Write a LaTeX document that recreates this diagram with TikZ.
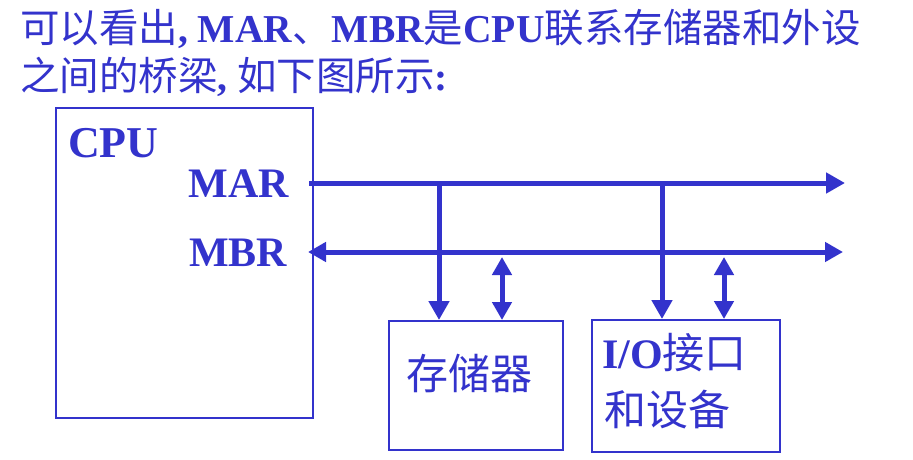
\documentclass[tikz,border=0pt]{standalone}
\usepackage{fontspec}
\setmainfont{Liberation Serif}
\newfontfamily\cjk{Noto Sans CJK SC}
\usetikzlibrary{arrows.meta}
\definecolor{bluec}{RGB}{51,51,204}
\newcommand{\zh}[1]{{\cjk\mdseries #1}}
\begin{document}
\begin{tikzpicture}[x=1pt,y=-1pt,
  bus/.style={line width=5pt, draw=bluec},
  tipend/.style={-{Triangle[length=19pt,width=20pt]}},
  tipboth/.style={{Triangle[length=18pt,width=19pt]}-{Triangle[length=18pt,width=19pt]}},
  box/.style={draw=bluec, line width=2pt, inner sep=0pt},
  lbl/.style={text=bluec, inner sep=0pt, font=\bfseries\fontsize{42}{42}\selectfont},
  title/.style={text=bluec, inner sep=0pt, anchor=base west, font=\bfseries\fontsize{39.5}{39.5}\selectfont}]
\useasboundingbox (0,0) rectangle (913,460);
\fill[white] (0,0) rectangle (913,460);
% title
\node[title] (t1) at (20,43) {\zh{可以看出}, MAR\zh{、}MBR\zh{是}CPU\zh{联系存储器和外设}};
\node[title] (t2) at (20,90) {\zh{之间的桥梁}, \zh{如下图所示}:};
% CPU
\node[box, line width=1.2pt, minimum width=257pt, minimum height=310pt] (cpu) at (184.5,263) {};
\node[lbl, anchor=base west, font=\bfseries\fontsize{44}{44}\selectfont] (cpulbl) at (68,157) {CPU};
\node[lbl] (mar) at (239,184) {MAR};
\node[lbl] (mbr) at (238,253) {MBR};
% memory and io
\node[box, minimum width=174pt, minimum height=129pt] (mem) at (476,385.5) {};
\node[lbl] (memtxt) at (469,373) {\zh{存储器}};
\node[box, minimum width=188pt, minimum height=132pt] (io) at (686,386) {};
\node[lbl, anchor=west] (io1) at (602,353) {I/O\zh{接口}};
\node[lbl, anchor=west] (io2) at (604,410) {\zh{和设备}};
% buses
\coordinate (marA) at (309,183);
\coordinate (marB) at (845,183);
\coordinate (mbrA) at (308,252);
\coordinate (mbrB) at (843,252);
\coordinate (j1) at (439,183);
\coordinate (j2) at (662,183);
\coordinate (d1) at (502,257);
\coordinate (d2) at (724,257);
\draw[bus, tipend] (marA) -- (marB);
\draw[bus, tipboth] (mbrA) -- (mbrB);
\draw[bus, tipend] (j1) -- (j1 |- mem.north);
\draw[bus, tipend] (j2) -- (j2 |- io.north);
\draw[bus, tipboth] (d1) -- (d1 |- mem.north);
\draw[bus, tipboth] (d2) -- (d2 |- io.north);
\end{tikzpicture}
\end{document}
